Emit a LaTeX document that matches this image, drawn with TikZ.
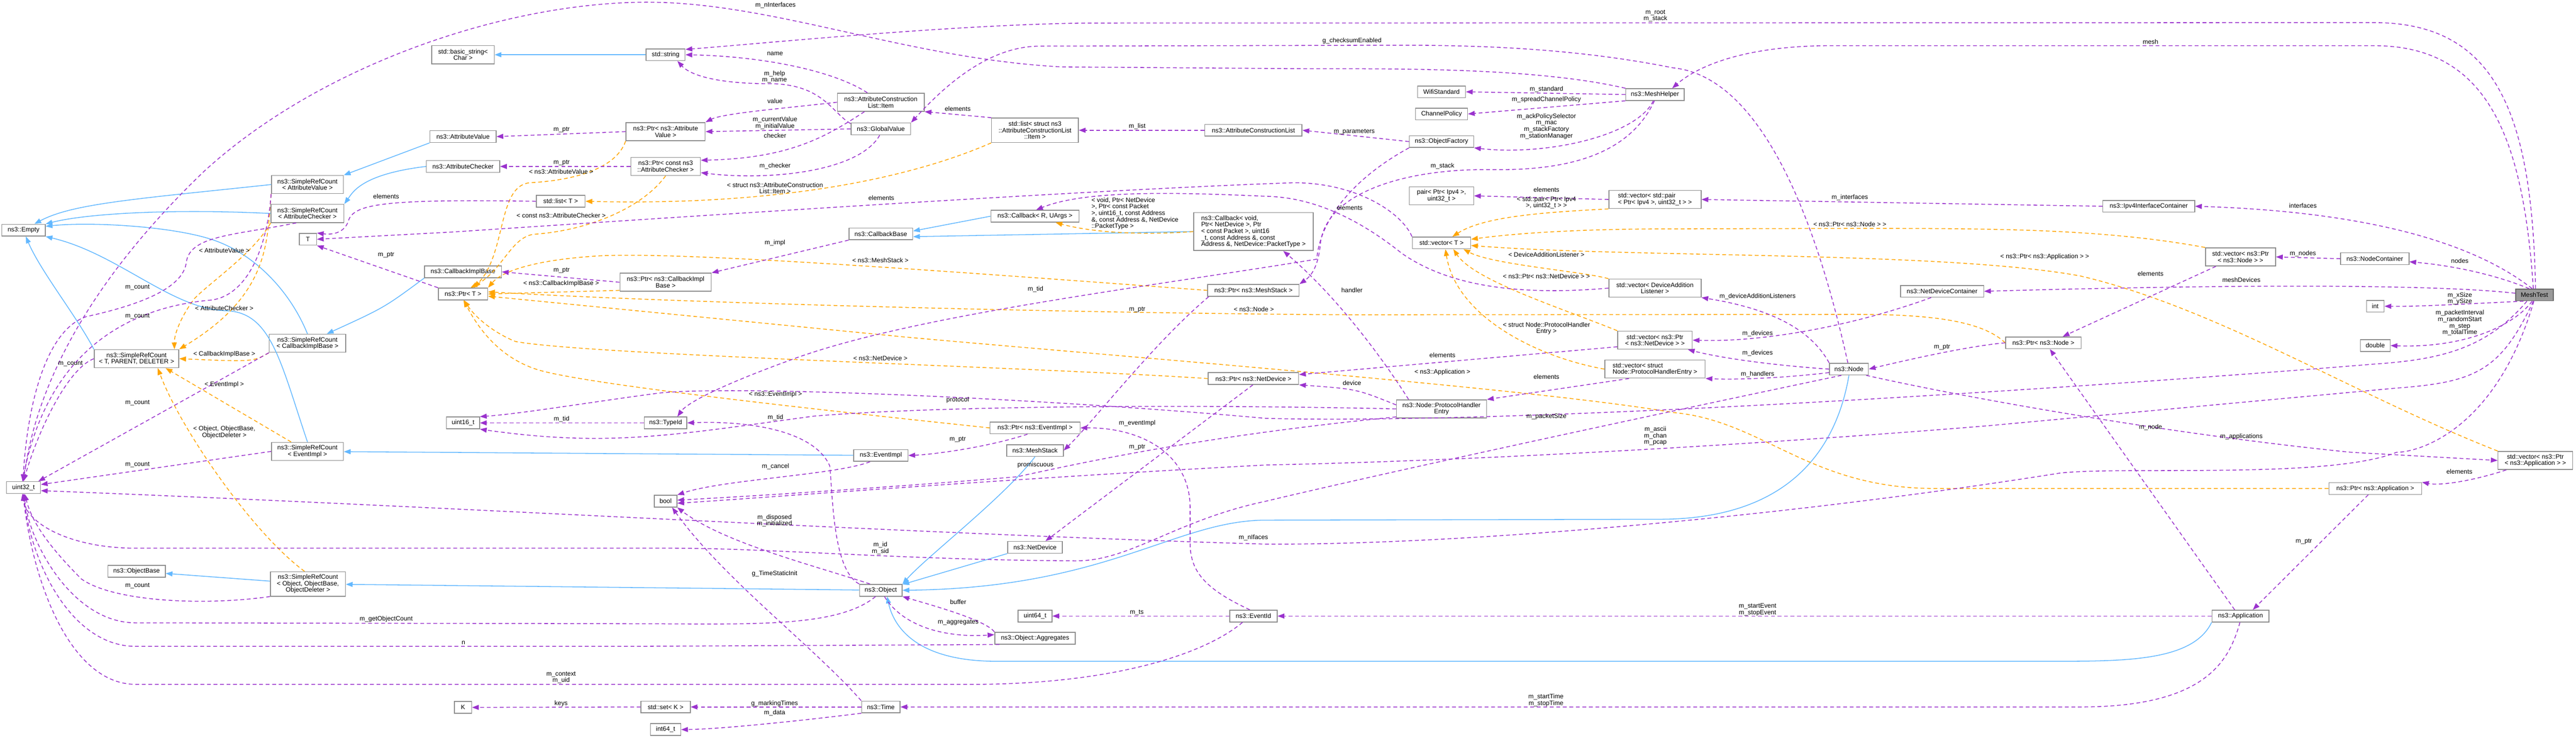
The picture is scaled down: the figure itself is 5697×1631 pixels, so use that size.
\documentclass[tikz,border=0pt]{standalone}
\usepackage{fontspec}
\setmainfont{Liberation Sans}
\usetikzlibrary{arrows.meta}
\definecolor{mempurple}{HTML}{9A32CD}
\definecolor{tplorange}{HTML}{FFA500}
\definecolor{inhblue}{HTML}{63B8FF}
\definecolor{boxgray}{HTML}{8C8C8C}
\definecolor{curgray}{HTML}{999999}
\definecolor{curedge}{HTML}{666666}
\tikzset{
  cls/.style={draw=boxgray, fill=white, line width=0.5pt, minimum height=0.26cm,
    inner xsep=0.04cm, inner ysep=0.03cm, align=center, font=\fontsize{4}{4.1}\selectfont},
  cur/.style={cls, draw=curedge, fill=curgray},
  bw/.style={minimum width=#1*0.01cm},
  bh/.style={minimum height=#1*0.01cm},
  lbl/.style={inner sep=0pt, align=center, font=\fontsize{4}{4.1}\selectfont},
  mem/.style={draw=mempurple, line width=0.5pt, dash pattern=on 2.4pt off 1.7pt,
    -{Triangle[length=0.15cm,width=0.11cm]}},
  tpl/.style={mem, draw=tplorange},
  inh/.style={draw=inhblue, line width=0.5pt, -{Triangle[length=0.15cm,width=0.11cm]}}
}
\begin{document}
\begin{tikzpicture}[x=0.01cm, y=-0.01cm]
\useasboundingbox (0,0) rectangle (5697,1631);

\node[cls, bw=96] (empty) at (52,509) {ns3::Empty};
\node[cls, bw=138, bh=40] (basicstr) at (1024,121) {std::basic\_string<\\ Char >};
\node[cls, bw=159, bh=40] (srcav) at (680,408) {ns3::SimpleRefCount\\< AttributeValue >};
\node[cls, bw=161, bh=40] (srcac) at (680,472) {ns3::SimpleRefCount\\< AttributeChecker >};
\node[cls, bw=38] (tT) at (681,529) {T};
\node[cls, bw=146] (attrval) at (1024,302) {ns3::AttributeValue};
\node[cls, bw=162] (attrchk) at (1024,368) {ns3::AttributeChecker};
\node[cls, bw=86] (stdstring) at (1472,121) {std::string};
\node[cls, bw=175, bh=40] (ptrav) at (1472,291) {ns3::Ptr< ns3::Attribute\\Value >};
\node[cls, bw=154, bh=40] (ptrac) at (1472,368) {ns3::Ptr< const ns3\\::AttributeChecker >};
\node[cls, bw=108] (listT) at (1240,445) {std::list< T >};
\node[cls, bw=192, bh=40] (item) at (1948,226) {ns3::AttributeConstruction\\List::Item};
\node[cls, bw=132] (gv) at (1948,285) {ns3::GlobalValue};
\node[cls, bw=141] (cbbase) at (1948,517) {ns3::CallbackBase};
\node[cls, bw=192, bh=54] (listitem) at (2289,288) {std::list< struct ns3\\::AttributeConstructionList\\::Item >};
\node[cls, bw=215] (acl) at (2772,288) {ns3::AttributeConstructionList};
\node[cls, bw=195] (cbr) at (2289,478) {ns3::Callback< R, UArgs >};
\node[cls, bw=264, bh=84, align=left] (cbvoid) at (2772,512) {ns3::Callback< void,\\ Ptr< NetDevice >, Ptr\\< const Packet >, uint16\\\_t, const Address \&, const\\ Address \&, NetDevice::PacketType >};
\node[cls, bw=106] (wifistd) at (3188,203) {WifiStandard};
\node[cls, bw=129] (meshhelper) at (3660,209) {ns3::MeshHelper};
\node[cls, bw=115] (chpol) at (3188,252) {ChannelPolicy};
\node[cls, bw=142] (objfac) at (3188,313) {ns3::ObjectFactory};
\node[cls, bw=142, bh=40] (pairipv4) at (3188,433) {pair< Ptr< Ipv4 >,\\ uint32\_t >};
\node[cls, bw=204, bh=40, align=left] (vecpair) at (3660,441) {std::vector< std::pair\\< Ptr< Ipv4 >, uint32\_t > >};
\node[cls, bw=129] (vecT) at (3188,537) {std::vector< T >};
\node[cls, bw=203] (ipv4ic) at (4752,456) {ns3::Ipv4InterfaceContainer};
\node[cls, bw=155, bh=40] (vecnode) at (4955,568) {std::vector< ns3::Ptr\\< ns3::Node > >};
\node[cls, bw=151] (nodecont) at (5252,572) {ns3::NodeContainer};
\node[cur, bw=83] (meshtest) at (5605,652) {MeshTest};
\node[cls, bw=39] (tyint) at (5253,677) {int};
\node[cls, bw=66] (tydouble) at (5253,764) {double};
\node[cls, bw=167] (ptrnode) at (4519,758) {ns3::Ptr< ns3::Node >};
\node[cls, bw=187, bh=40] (srctpd) at (302,793) {ns3::SimpleRefCount\\< T, PARENT, DELETER >};
\node[cls, bw=169, bh=40] (srccb) at (680,759) {ns3::SimpleRefCount\\< CallbackImplBase >};
\node[cls, bw=159, bh=40] (srcev) at (680,998) {ns3::SimpleRefCount\\< EventImpl >};
\node[cls, bw=75] (uint32) at (52,1078) {uint32\_t};
\node[cls, bw=170] (cbimpl) at (1024,601) {ns3::CallbackImplBase};
\node[cls, bw=109] (ptrT) at (1024,650) {ns3::Ptr< T >};
\node[cls, bw=73] (uint16) at (1024,935) {uint16\_t};
\node[cls, bw=202, bh=40] (ptrcb) at (1472,624) {ns3::Ptr< ns3::CallbackImpl\\Base >};
\node[cls, bw=94] (typeid) at (1472,935) {ns3::TypeId};
\node[cls, bw=120] (eventimpl) at (1948,1007) {ns3::EventImpl};
\node[cls, bw=50] (tybool) at (1472,1108) {bool};
\node[cls, bw=202] (ptrms) at (2772,642) {ns3::Ptr< ns3::MeshStack >};
\node[cls, bw=200] (ptrnd) at (2772,837) {ns3::Ptr< ns3::NetDevice >};
\node[cls, bw=199] (ptrev) at (2289,946) {ns3::Ptr< ns3::EventImpl >};
\node[cls, bw=125] (meshstack) at (2289,996) {ns3::MeshStack};
\node[cls, bw=204, bh=40] (vecdal) at (3660,637) {std::vector< DeviceAddition\\Listener >};
\node[cls, bw=184] (ndc) at (4295,644) {ns3::NetDeviceContainer};
\node[cls, bw=165, bh=40] (vecnd) at (3660,752) {std::vector< ns3::Ptr\\< ns3::NetDevice > >};
\node[cls, bw=222, bh=40, align=left] (vecphe) at (3660,816) {std::vector< struct\\ Node::ProtocolHandlerEntry >};
\node[cls, bw=86] (nsnode) at (4089,816) {ns3::Node};
\node[cls, bw=199, bh=40] (phe) at (3188,904) {ns3::Node::ProtocolHandler\\Entry};
\node[cls, bw=127] (objbase) at (302,1263) {ns3::ObjectBase};
\node[cls, bw=166, bh=54] (srcobj) at (681,1291) {ns3::SimpleRefCount\\< Object, ObjectBase,\\ ObjectDeleter >};
\node[cls, bw=38] (tK) at (1024,1564) {K};
\node[cls, bw=121] (netdev) at (2289,1210) {ns3::NetDevice};
\node[cls, bw=94] (nsobject) at (1948,1305) {ns3::Object};
\node[cls, bw=75] (uint64) at (2289,1362) {uint64\_t};
\node[cls, bw=105] (eventid) at (2772,1362) {ns3::EventId};
\node[cls, bw=178] (aggr) at (2289,1411) {ns3::Object::Aggregates};
\node[cls, bw=109] (setK) at (1472,1563) {std::set< K >};
\node[cls, bw=85] (nstime) at (1948,1563) {ns3::Time};
\node[cls, bw=67] (int64) at (1472,1613) {int64\_t};
\node[cls, bw=165, bh=40] (vecapp) at (5607,1018) {std::vector< ns3::Ptr\\< ns3::Application > >};
\node[cls, bw=205] (ptrapp) at (5253,1080) {ns3::Ptr< ns3::Application >};
\node[cls, bw=126] (app) at (4955,1362) {ns3::Application};

\draw[inh] (stdstring) -- (basicstr);
\draw[inh] (attrval.south west) -- (srcav.north east);
\draw[inh] (attrchk.west) .. controls (800,385) and (780,425) .. (srcac.north east);
\draw[inh] (srcav.west) .. controls (300,440) and (160,450) .. (empty.30);
\draw[inh] (srcac.west) .. controls (400,462) and (200,470) .. (empty.north east);
\draw[inh] (srccb.north) .. controls (640,640) and (560,560) .. (470,530) .. controls (380,500) and (200,490) .. (empty.10);
\draw[inh] (srcev.north) .. controls (620,800) and (600,690) .. (500,687) .. controls (380,684) and (260,560) .. (empty.south east);
\draw[inh] (srctpd.north west) .. controls (170,700) and (90,600) .. (empty.-70);
\draw[inh] (cbimpl.south west) .. controls (850,680) .. (srccb.26);
\draw[inh] (eventimpl) -- (srcev);
\draw[inh] (nsobject) -- (srcobj);
\draw[inh] (srcobj) -- (objbase);
\draw[inh] (cbr.west) -- (cbbase.5);
\draw[inh] (cbvoid.west) -- (cbbase.-5);
\draw[inh] (meshstack.south) .. controls (2220,1100) and (2050,1230) .. (nsobject.north east);
\draw[inh] (netdev.south west) -- (nsobject.15);
\draw[inh] (nsnode.south) .. controls (4060,1000) and (3950,1148) .. (3670,1148) -- (2800,1150) .. controls (2600,1150) and (2450,1300) .. (nsobject.east);
\draw[inh] (app.south west) .. controls (4850,1462) and (4700,1462) .. (4537,1462) -- (2204,1462) .. controls (2020,1462) and (1975,1380) .. (nsobject.-45);

\draw[tpl] (srcav.south west) .. controls (590,530) and (600,650) .. (srctpd.north east);
\draw[tpl] (srcac.south west) .. controls (560,560) and (470,620) .. (430,660) .. controls (400,700) and (385,740) .. (srctpd.14);
\draw[tpl] (srccb.south west) .. controls (560,800) .. (srctpd.east);
\draw[tpl] (srcev.150) -- (srctpd.-18);
\draw[tpl] (srcobj.105) .. controls (560,1180) and (400,950) .. (srctpd.-24);
\draw[tpl] (ptrav.south west) .. controls (1360,380) and (1250,400) .. (1172,404) .. controls (1100,410) and (1120,560) .. (ptrT.30);
\draw[tpl] (ptrac.south) .. controls (1420,460) and (1300,510) .. (1180,518) .. controls (1130,525) and (1110,600) .. (ptrT.40);
\draw[tpl] (listitem.south west) .. controls (2000,400) and (1700,455) .. (listT.east);
\draw[tpl] (ptrcb.190) -- (ptrT.east);
\draw[tpl] (ptrms.west) .. controls (2100,600) and (1500,555) .. (1320,566) .. controls (1180,575) and (1110,600) .. (ptrT.north east);
\draw[tpl] (ptrnode.west) .. controls (4380,705) and (4250,695) .. (4100,695) -- (3000,696) .. controls (2400,693) and (1500,670) .. (ptrT.5);
\draw[tpl] (ptrapp.west) -- (4280,1080) .. controls (4000,1080) and (3900,930) .. (3700,912) .. controls (3400,860) and (2500,790) .. (2000,745) -- (ptrT.-5);
\draw[tpl] (ptrnd.west) .. controls (2300,812) and (1300,785) .. (1140,755) .. controls (1090,735) and (1050,700) .. (ptrT.-80);
\draw[tpl] (ptrev.west) .. controls (1800,905) and (1300,850) .. (1191,818) .. controls (1100,790) and (1055,720) .. (ptrT.-85);
\draw[tpl] (cbvoid.west) .. controls (2500,522) and (2400,510) .. (cbr.-17);
\draw[tpl] (vecpair.south west) .. controls (3400,470) and (3280,480) .. (vecT.30);
\draw[tpl] (vecnode.north west) .. controls (4650,505) and (4400,505) .. (4100,505) -- (3700,506) .. controls (3450,506) and (3320,520) .. (vecT.7);
\draw[tpl] (vecapp.north west) .. controls (5200,870) and (4900,680) .. (4600,610) .. controls (4300,555) and (3600,570) .. (vecT.-5);
\draw[tpl] (vecdal.north west) .. controls (3500,600) and (3300,585) .. (vecT.-16);
\draw[tpl] (vecnd.north west) .. controls (3450,680) and (3260,620) .. (vecT.-28);
\draw[tpl] (vecphe.west) .. controls (3400,790) and (3220,700) .. (vecT.-58);

\draw[mem] (meshtest.80) .. controls (5600,250) and (5520,50) .. (5250,50) -- (2400,51) .. controls (2100,55) and (1700,95) .. (stdstring.15);
\draw[mem] (meshtest.100) .. controls (5580,300) and (5500,101) .. (5250,101) -- (4050,101) .. controls (3850,101) and (3750,150) .. (meshhelper.20);
\draw[mem] (meshhelper.north west) .. controls (3400,150) and (3100,152) .. (2900,152) -- (2350,148) .. controls (2000,130) and (1700,0) .. (1415,5) .. controls (1100,10) and (700,150) .. (450,380) .. controls (200,620) and (80,850) .. (uint32.north);
\draw[mem] (nsnode.100) .. controls (4020,500) and (3900,170) .. (3700,150) .. controls (3500,110) and (3300,100) .. (3100,100) -- (2300,102) .. controls (2180,102) and (2080,200) .. (gv.north east);
\draw[mem] (meshhelper.west) -- (wifistd.east);
\draw[mem] (meshhelper.south west) -- (chpol.east);
\draw[mem] (meshhelper.-105) .. controls (3620,300) and (3420,345) .. (objfac.south east);
\draw[mem] (meshhelper.-95) .. controls (3600,350) and (3450,377) .. (3300,375) .. controls (3100,372) and (2930,430) .. (2920,540) .. controls (2915,590) and (2900,610) .. (ptrms.north east);
\draw[mem] (objfac.west) -- (acl.east);
\draw[mem] (objfac.south west) .. controls (3000,390) and (2920,480) .. (2912,573) .. controls (2500,640) and (2000,700) .. (1740,799) .. controls (1600,850) and (1520,890) .. (typeid.28);
\draw[mem] (acl.west) -- (listitem.east);
\draw[mem] (listitem.north west) -- (item.south east);
\draw[mem] (item.145) .. controls (1850,160) and (1700,125) .. (stdstring.east);
\draw[mem] (gv.170) .. controls (1840,250) and (1820,185) .. (1700,185) .. controls (1600,185) and (1530,170) .. (stdstring.-28);
\draw[mem] (item.west) .. controls (1750,238) and (1600,250) .. (ptrav.north east);
\draw[mem] (gv.west) -- (ptrav.east);
\draw[mem] (item.-150) .. controls (1830,300) and (1750,350) .. (ptrac.10);
\draw[mem] (gv.-100) .. controls (1900,380) and (1700,400) .. (ptrac.-10);
\draw[mem] (ptrav.west) -- (attrval.east);
\draw[mem] (ptrac.west) -- (attrchk.east);
\draw[mem] (cbbase.south west) -- (ptrcb.north east);
\draw[mem] (ptrcb.west) -- (cbimpl.east);
\draw[mem] (ptrT.north west) -- (tT.south east);
\draw[mem] (listT.west) .. controls (850,440) and (780,450) .. (770,490) .. controls (762,512) and (740,520) .. (tT.north east);
\draw[mem] (vecT.north west) .. controls (3100,470) and (3000,404) .. (2861,404) .. controls (2400,420) and (1500,480) .. (1000,513) -- (tT.east);
\draw[mem] (vecpair.west) -- (pairipv4.east);
\draw[mem] (ipv4ic.west) -- (vecpair.east);
\draw[mem] (meshtest.110) .. controls (5500,560) and (5300,470) .. (ipv4ic.east);
\draw[mem] (meshtest.130) .. controls (5500,600) and (5400,585) .. (nodecont.-5);
\draw[mem] (nodecont.west) -- (vecnode.east);
\draw[mem] (vecnode.-159) -- (ptrnode.18);
\draw[mem] (meshtest.-150) .. controls (5450,672) and (5350,678) .. (tyint.east);
\draw[mem] (meshtest.-110) .. controls (5560,720) and (5450,770) .. (tydouble.east);
\draw[mem] (meshtest.175) .. controls (5400,630) and (5000,627) .. (ndc.east);
\draw[mem] (ndc.-150) .. controls (4100,720) and (3900,757) .. (vecnd.east);
\draw[mem] (nsnode.west) .. controls (3950,810) and (3820,795) .. (vecnd.-16);
\draw[mem] (nsnode.north west) .. controls (4000,720) and (3900,680) .. (vecdal.south east);
\draw[mem] (nsnode.-170) .. controls (3950,835) and (3850,840) .. (vecphe.south east);
\draw[mem] (ptrnode.west) .. controls (4350,765) and (4200,800) .. (nsnode.east);
\draw[mem] (vecnd.-170) -- (ptrnd.5);
\draw[mem] (vecphe.-160) -- (phe.north east);
\draw[mem] (phe.175) .. controls (3000,860) .. (ptrnd.south east);
\draw[mem] (phe.164) .. controls (3050,780) and (2950,650) .. (cbvoid.-33);
\draw[mem] (phe.west) .. controls (2700,895) and (2100,895) .. (1800,920) .. controls (1500,960) and (1350,990) .. (uint16.south east);
\draw[mem] (meshtest.-140) .. controls (5500,770) and (5400,795) .. (5250,805) .. controls (4700,850) and (3400,940) .. (2800,925) .. controls (2300,880) and (1600,850) .. (1450,870) .. controls (1300,890) and (1150,915) .. (uint16.north east);
\draw[mem] (typeid.west) -- (uint16.east);
\draw[mem] (nsobject.north west) .. controls (1842,1260) and (1842,1100) .. (1835,1030) .. controls (1800,950) and (1650,930) .. (typeid.east);
\draw[mem] (eventimpl.-150) .. controls (1850,1050) and (1600,1060) .. (tybool.north east);
\draw[mem] (meshtest.-100) .. controls (5530,820) and (5475,845) .. (5300,858) -- (4400,941) .. controls (3800,990) and (3200,1020) .. (2800,1028) .. controls (2200,1060) and (1700,1100) .. (tybool.-10);
\draw[mem] (phe.-170) .. controls (2700,960) and (2450,1010) .. (2250,1054) .. controls (2000,1075) and (1700,1095) .. (tybool.5);
\draw[mem] (nsobject.150) .. controls (1800,1250) and (1600,1200) .. (tybool.south east);
\draw[mem] (nstime.north west) .. controls (1800,1430) and (1600,1280) .. (tybool.-44);
\draw[mem] (nstime.west) -- (setK.east);
\draw[mem] (nstime.south west) .. controls (1800,1590) and (1600,1612) .. (int64.east);
\draw[mem] (setK.west) -- (tK.east);
\draw[mem] (app.-95) .. controls (4930,1460) and (4880,1563) .. (4600,1563) -- (nstime.east);
\draw[mem] (app.west) -- (eventid.east);
\draw[mem] (eventid.west) -- (uint64.east);
\draw[mem] (eventid.120) .. controls (2660,1300) and (2632,1260) .. (2632,1200) -- (2632,1120) .. controls (2630,1000) and (2520,945) .. (ptrev.east);
\draw[mem] (eventid.-150) .. controls (2660,1450) and (2450,1513) .. (2150,1513) -- (300,1513) .. controls (160,1513) and (75,1300) .. (uint32.-95);
\draw[mem] (aggr.-170) -- (1400,1429) -- (300,1429) .. controls (160,1429) and (70,1250) .. (uint32.-90);
\draw[mem] (nsobject.-130) .. controls (1850,1390) and (1650,1379) .. (1400,1379) -- (300,1377) .. controls (160,1377) and (65,1200) .. (uint32.-85);
\draw[mem] (srcobj.south west) .. controls (450,1340) and (250,1330) .. (180,1280) .. controls (100,1200) and (70,1150) .. (uint32.-80);
\draw[mem] (nsnode.-140) .. controls (3500,950) and (3000,1060) .. (2800,1108) .. controls (2600,1150) and (2500,1240) .. (2380,1240) .. controls (2000,1238) and (1700,1212) .. (1489,1212) -- (300,1212) .. controls (160,1212) and (60,1160) .. (uint32.-100);
\draw[mem] (meshtest.-95) .. controls (5520,950) and (5350,1000) .. (5300,1000) .. controls (5150,1060) and (4700,1030) .. (4555,1046) .. controls (3900,1150) and (3200,1205) .. (2800,1203) .. controls (2000,1180) and (1000,1120) .. (uint32.-10);
\draw[mem] (srcav.south west) .. controls (590,560) and (540,660) .. (460,664) .. controls (300,680) and (110,760) .. (uint32.100);
\draw[mem] (srcac.-140) .. controls (520,520) and (420,520) .. (412,580) .. controls (405,640) and (300,676) .. (191,700) .. controls (100,730) and (60,900) .. (uint32.95);
\draw[mem] (srctpd.west) .. controls (150,815) and (85,950) .. (uint32.90);
\draw[mem] (srccb.south west) -- (uint32.23);
\draw[mem] (srcev.west) -- (uint32.10);
\draw[mem] (ptrms.-172) .. controls (2550,760) and (2420,930) .. (meshstack.east);
\draw[mem] (ptrnd.-95) -- (netdev.31);
\draw[mem] (ptrev.-140) .. controls (2180,990) and (2060,1005) .. (eventimpl.east);
\draw[mem] (nsobject.-60) .. controls (2000,1390) and (2100,1410) .. (aggr.175);
\draw[mem] (aggr.north west) .. controls (2180,1370) and (2050,1335) .. (nsobject.south east);
\draw[mem] (ptrapp.-138) -- (app.27);
\draw[mem] (vecapp.-162) .. controls (5480,1060) and (5400,1075) .. (ptrapp.north east);
\draw[mem] (nsnode.-20) .. controls (4350,880) and (4800,960) .. (5200,1000) -- (vecapp.west);
\draw[mem] (app.133) -- (ptrnode.-44);
\draw[mem] (vecdal.west) .. controls (3350,655) and (3200,630) .. (3100,560) .. controls (3000,480) and (2900,436) .. (2800,434) .. controls (2600,425) and (2400,420) .. (cbr.80);

\node[lbl] (lnif) at (1715,12) {m\_nInterfaces};
\node[lbl] (lroot) at (3661,35) {m\_root\\m\_stack};
\node[lbl] (lchk) at (2990,90) {g\_checksumEnabled};
\node[lbl] (lmesh) at (4756,92) {mesh};
\node[lbl] (lname) at (1714,119) {name};
\node[lbl] (lhelp) at (1713,170) {m\_help\\m\_name};
\node[lbl] (lstd) at (3420,197) {m\_standard};
\node[lbl] (lspread) at (3420,220) {m\_spreadChannelPolicy};
\node[lbl] (lvalue) at (1714,224) {value};
\node[lbl] (lcur) at (1714,272) {m\_currentValue\\m\_initialValue};
\node[lbl] (llist) at (2515,280) {m\_list};
\node[lbl] (lack) at (3420,279) {m\_ackPolicySelector\\m\_mac\\m\_stackFactory\\m\_stationManager};
\node[lbl] (lpar) at (2995,291) {m\_parameters};
\node[lbl] (lchecker) at (1714,300) {checker};
\node[lbl] (lmchk) at (1714,367) {m\_checker};
\node[lbl] (lstack) at (3190,367) {m\_stack};
\node[lbl] (ltav) at (1241,380) {< ns3::AttributeValue >};
\node[lbl] (ltitem) at (1714,416) {< struct ns3::AttributeConstruction\\List::Item >};
\node[lbl] (lif) at (4091,437) {m\_interfaces};
\node[lbl] (ltpair) at (3420,448) {< std::pair< Ptr< Ipv4\\>, uint32\_t > >};
\node[lbl] (linterf) at (5093,455) {interfaces};
\node[lbl, align=left] (ltvoid) at (2510,472) {< void, Ptr< NetDevice\\>, Ptr< const Packet\\>, uint16\_t, const Address\\\&, const Address \&, NetDevice\\::PacketType >};
\node[lbl] (ltac) at (1241,476) {< const ns3::AttributeChecker >};
\node[lbl] (ltnode2) at (4091,496) {< ns3::Ptr< ns3::Node > >};
\node[lbl] (limpl) at (1714,537) {m\_impl};
\node[lbl] (lav) at (496,554) {< AttributeValue >};
\node[lbl] (lnodes) at (5093,561) {m\_nodes};
\node[lbl] (lnodes2) at (5440,577) {nodes};
\node[lbl] (ltdal) at (3420,563) {< DeviceAdditionListener >};
\node[lbl] (ltapp2) at (4522,568) {< ns3::Ptr< ns3::Application > >};
\node[lbl] (ltms) at (1947,576) {< ns3::MeshStack >};
\node[lbl] (ltnd2) at (3420,611) {< ns3::Ptr< ns3::NetDevice > >};
\node[lbl] (lmd) at (4957,619) {meshDevices};
\node[lbl] (ltcb) at (1241,627) {< ns3::CallbackImplBase >};
\node[lbl] (ltid1) at (2290,639) {m\_tid};
\node[lbl] (lhand) at (2990,642) {handler};
\node[lbl] (ldal) at (3887,655) {m\_deviceAdditionListeners};
\node[lbl] (lxy) at (5440,660) {m\_xSize\\m\_ySize};
\node[lbl] (lac) at (496,682) {< AttributeChecker >};
\node[lbl] (ltnode) at (2773,684) {< ns3::Node >};
\node[lbl] (lpi) at (5440,714) {m\_packetInterval\\m\_randomStart\\m\_step\\m\_totalTime};
\node[lbl] (ltphe) at (3420,726) {< struct Node::ProtocolHandler\\Entry >};
\node[lbl] (ldev1) at (3887,737) {m\_devices};
\node[lbl] (ldev2) at (3887,781) {m\_devices};
\node[lbl] (lcbib) at (496,783) {< CallbackImplBase >};
\node[lbl] (ltnd) at (1947,792) {< ns3::NetDevice >};
\node[lbl] (lmc0) at (156,804) {m\_count};
\node[lbl] (ltapp) at (3190,823) {< ns3::Application >};
\node[lbl] (lhdl) at (3887,827) {m\_handlers};
\node[lbl] (ldevice) at (2990,847) {device};
\node[lbl] (lei) at (496,850) {< EventImpl >};
\node[lbl] (ltev) at (1715,872) {< ns3::EventImpl >};
\node[lbl] (lproto) at (2118,884) {protocol};
\node[lbl] (lps) at (3420,921) {m\_packetSize};
\node[lbl] (ltid2) at (1715,923) {m\_tid};
\node[lbl] (ltid3) at (1242,927) {m\_tid};
\node[lbl] (lev) at (2515,936) {m\_eventImpl};
\node[lbl] (lnode) at (4756,945) {m\_node};
\node[lbl] (lobj) at (496,956) {< Object, ObjectBase,\\ObjectDeleter >};
\node[lbl] (lascii) at (3661,964) {m\_ascii\\m\_chan\\m\_pcap};
\node[lbl] (lapps) at (4957,965) {m\_applications};
\node[lbl] (lprom) at (2290,1028) {promiscuous};
\node[lbl] (lcancel) at (1715,1032) {m\_cancel};
\node[lbl] (ldisp) at (1713,1151) {m\_disposed\\m\_initialized};
\node[lbl] (lnif2) at (2772,1189) {m\_nIfaces};
\node[lbl] (lid) at (1947,1212) {m\_id\\m\_sid};
\node[lbl] (ltsi) at (1713,1268) {g\_TimeStaticInit};
\node[lbl] (lbuf) at (2119,1331) {buffer};
\node[lbl] (lse) at (3887,1348) {m\_startEvent\\m\_stopEvent};
\node[lbl] (lts) at (2514,1354) {m\_ts};
\node[lbl] (lgoc) at (854,1369) {m\_getObjectCount};
\node[lbl] (lagg) at (2119,1376) {m\_aggregates};
\node[lbl] (ln) at (1025,1421) {n};
\node[lbl] (lctx) at (1241,1498) {m\_context\\m\_uid};
\node[lbl] (lst) at (3419,1548) {m\_startTime\\m\_stopTime};
\node[lbl] (lkeys) at (1241,1556) {keys};
\node[lbl] (lmark) at (1713,1556) {g\_markingTimes};
\node[lbl] (ldata) at (1713,1576) {m\_data};
\foreach \ly in {635,699,891,1027,1295}
  \node[lbl] (lmc\ly) at (304,\ly) {m\_count};
\foreach \lx/\ly in {854/434,1949/438,2118/240,2985/459,3420/419,3190/785,3420/833,4756/605,5439/1043}
  \node[lbl] (lel\lx-\ly) at (\lx,\ly) {elements};
\foreach \lx/\ly in {1242/287,1242/360,854/564,1242/598,2515/684,2118/972,2515/989,4295/768,5095/1197}
  \node[lbl] (lptr\lx-\ly) at (\lx,\ly) {m\_ptr};
\end{tikzpicture}
\end{document}
